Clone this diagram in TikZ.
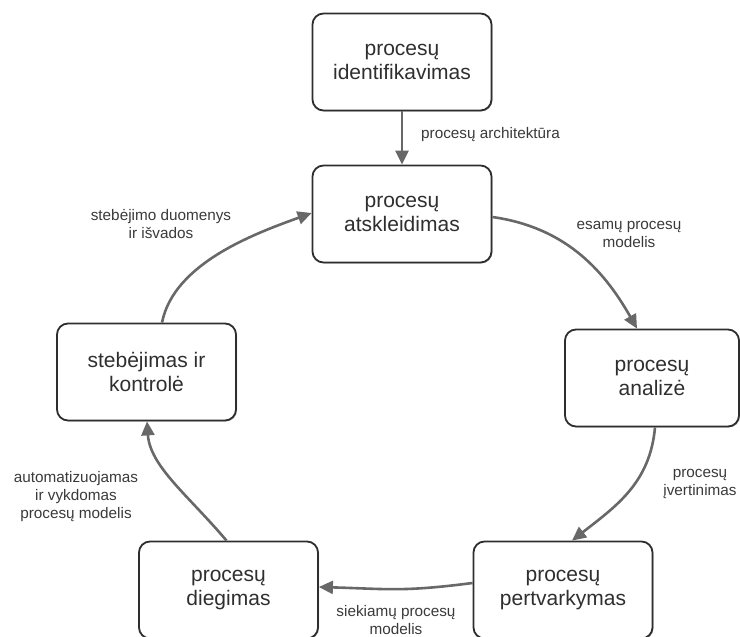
\documentclass[tikz,border=0pt]{standalone}
\usepackage{fontspec}
\setmainfont{Liberation Sans}
\usetikzlibrary{arrows.meta,calc,shadows}

\definecolor{boxline}{HTML}{2E2E2E}
\definecolor{arrowgrey}{HTML}{686868}
\definecolor{txt}{HTML}{2F2F2F}
\definecolor{lbltxt}{HTML}{3A3A3A}

\begin{document}
\begin{tikzpicture}[x=1pt,y=-1pt,
  box/.style={draw=boxline, line width=1.8pt, rounded corners=11pt, fill=white,
    minimum width=179pt, minimum height=97pt, align=center, inner sep=0pt,
    font=\fontsize{21}{24}\selectfont, text=txt,
    drop shadow={shadow xshift=1pt, shadow yshift=-1pt, opacity=0.25, fill=black}},
  lbl/.style={align=center, inner sep=0pt, font=\fontsize{15.3}{18}\selectfont, text=lbltxt},
  flow/.style={draw=arrowgrey, line width=2.6pt, -{Triangle[length=14pt,width=13pt]}}]

\useasboundingbox (0,0) rectangle (740,637);

% process steps
\node[box] (b1) at (402,62) {procesų\\identifikavimas};
\node[box] (b2) at (402,214) {procesų\\atskleidimas};
\node[box, minimum width=174pt] (an) at (652,378) {procesų\\analizė};
\node[box] (pv) at (563,590) {procesų\\pertvarkymas};
\node[box] (dg) at (228.5,590) {procesų\\diegimas};
\node[box] (st) at (146.5,372) {stebėjimas ir\\kontrolė};

% connectors around the cycle
\draw[flow] (b1.south) -- (b2.north);
\draw[flow] ($(b2.east)+(0,3)$) .. controls +(70,10) and +(-35,-62) .. ($(an.north)+(-15,0)$);
\draw[flow] ($(an.south)+(3,0)$) .. controls +(-5,55) and +(45,-35) .. ($(pv.north)+(9,0)$);
\draw[flow] ($(pv.west)+(0,-7)$) .. controls +(-70,9) and +(70,2) .. ($(dg.east)+(0,-3)$);
\draw[flow] ($(dg.north)+(-2,0)$) .. controls +(-38,-45) and +(3,45) .. ($(st.south)+(0.5,0)$);
\draw[flow] ($(st.north)+(15.5,0)$) .. controls +(12,-60) and +(-55,20) .. ($(b2.west)+(0,-1)$);

% connector labels
\node[lbl, anchor=west] (l1) at (421,135) {procesų architektūra};
\node[lbl] (l2) at (629,234) {esamų procesų\\modelis};
\node[lbl] (l3) at (700,484) {procesų\\įvertinimas};
\node[lbl] (l4) at (396,620) {siekiamų procesų\\modelis};
\node[lbl] (l5) at (76,497) {automatizuojamas\\ir vykdomas\\procesų modelis};
\node[lbl] (l6) at (161,224) {stebėjimo duomenys\\ir išvados};
\end{tikzpicture}
\end{document}
